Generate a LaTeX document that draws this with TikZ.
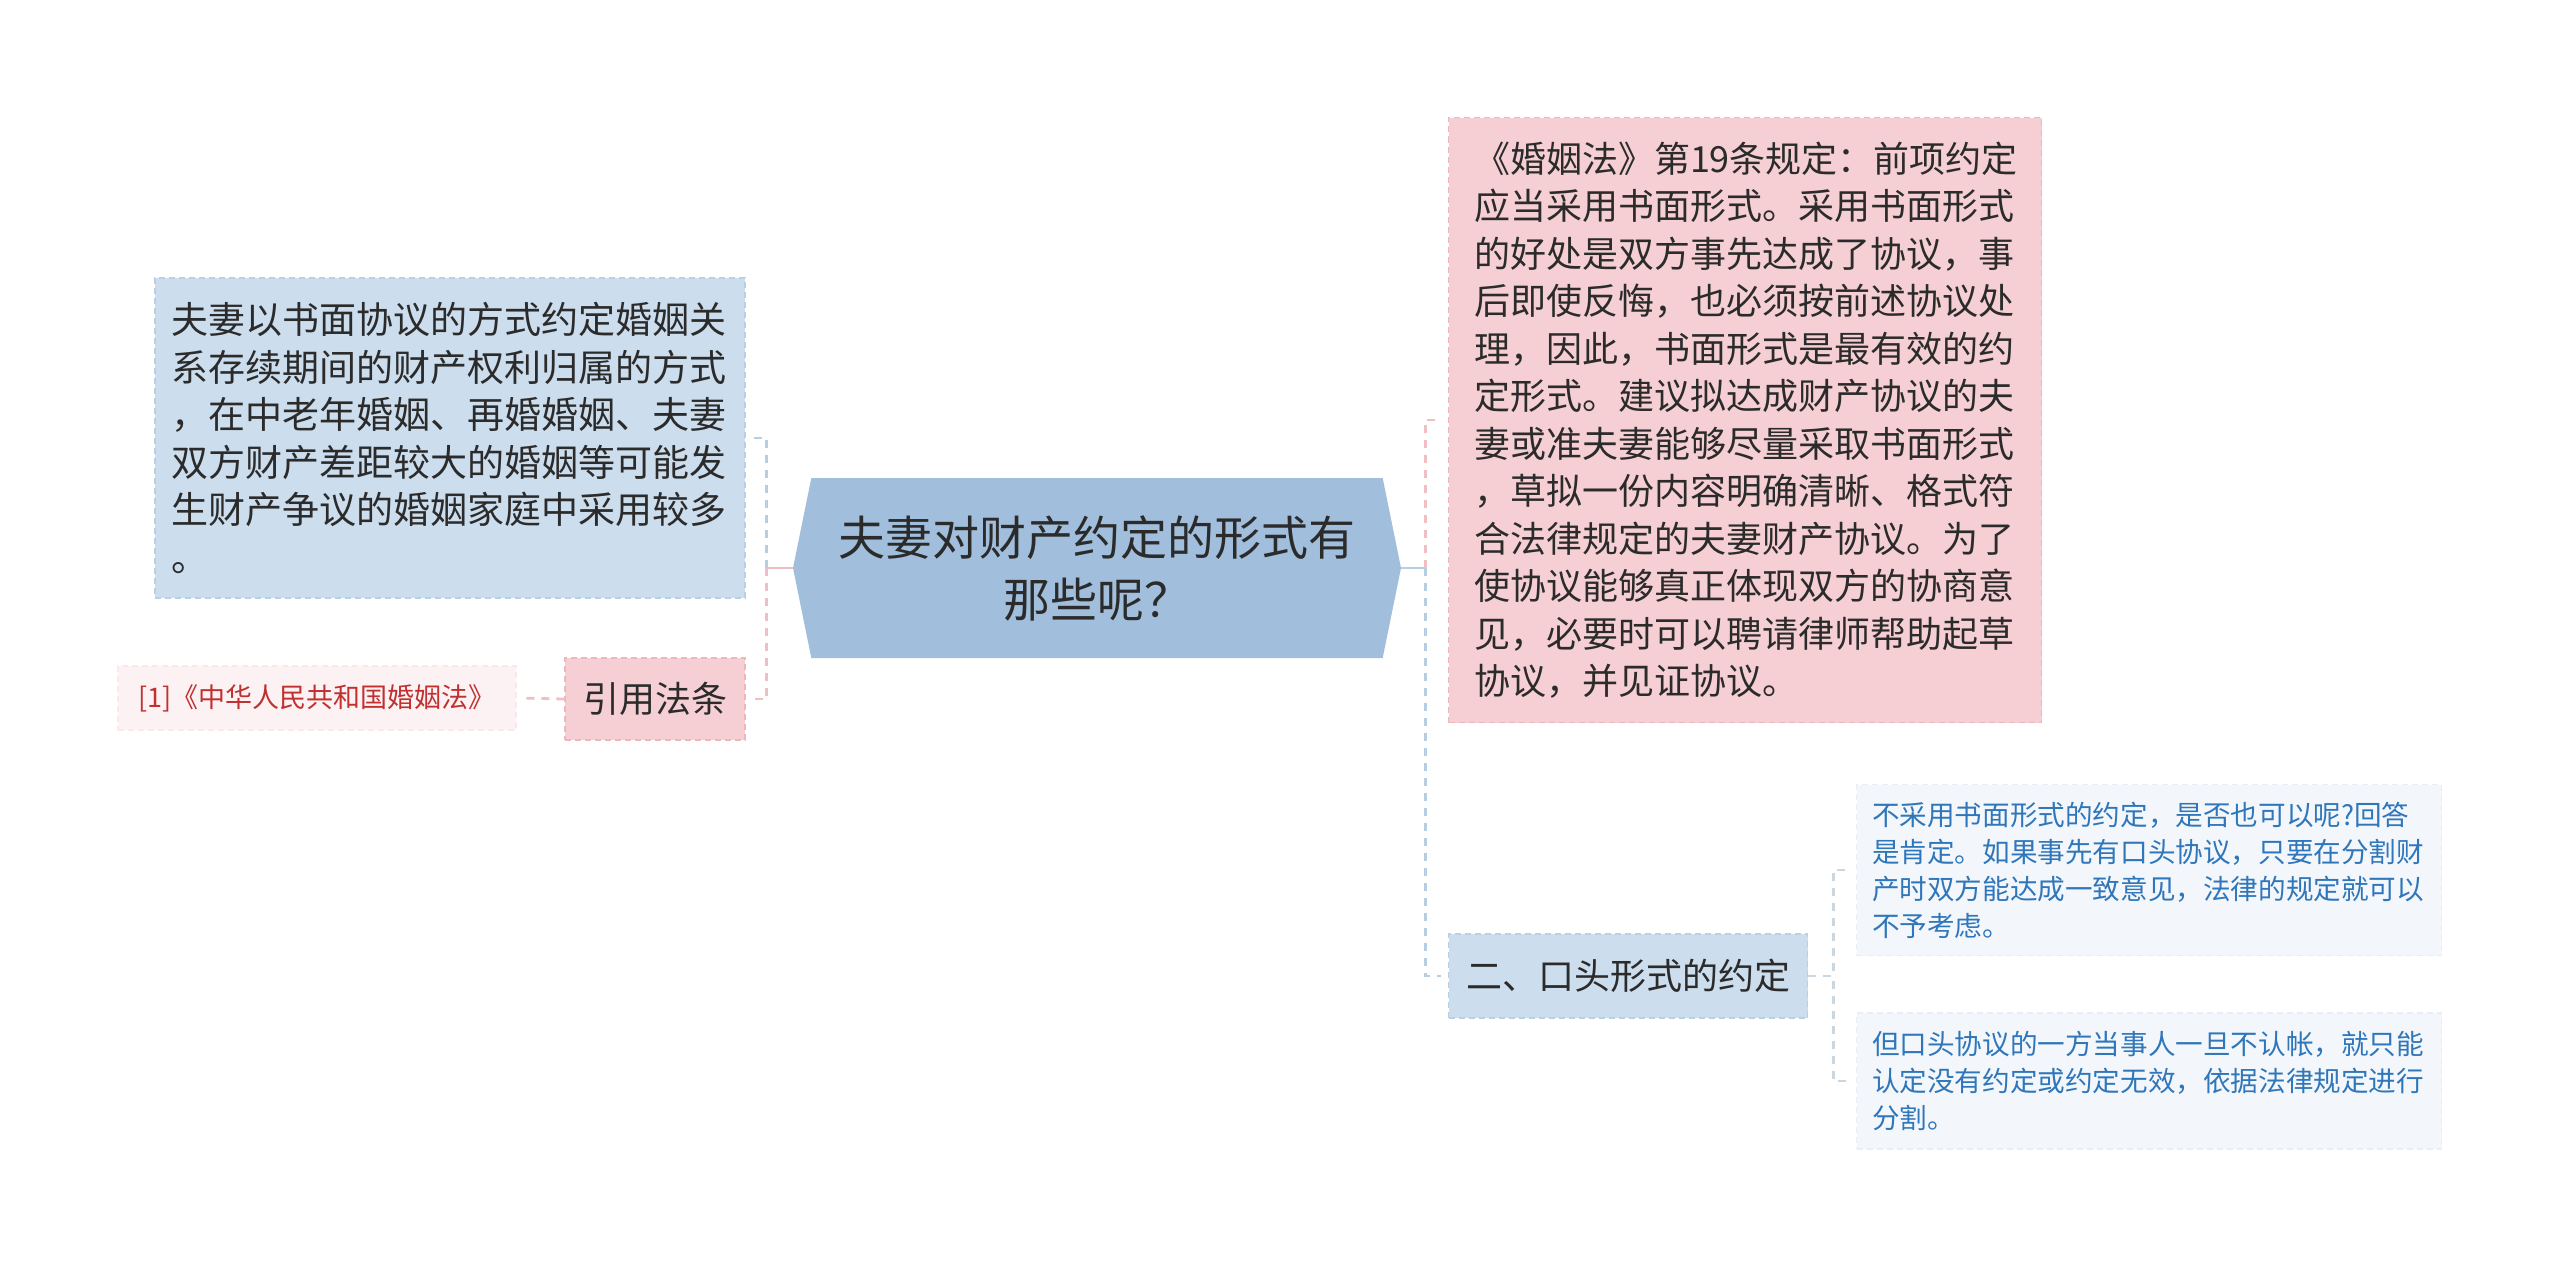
\documentclass[tikz,border=0pt]{standalone}
\usepackage{fontspec}
\setmainfont{Noto Sans CJK SC}
\usepackage{tikz}
\usetikzlibrary{shapes.symbols}
\definecolor{hexfill}{HTML}{A1BFDC}
\definecolor{bluefill}{HTML}{CCDDED}
\definecolor{blueedge}{HTML}{B9CFE4}
\definecolor{pinkfill}{HTML}{F5CFD3}
\definecolor{pinkedge}{HTML}{EDB8BD}
\definecolor{palepink}{HTML}{FDF2F3}
\definecolor{palepinkedge}{HTML}{FAE8EA}
\definecolor{leaffill}{HTML}{F3F7FB}
\definecolor{leafedge}{HTML}{E8EEF5}
\definecolor{reftext}{HTML}{C0302F}
\definecolor{leaftext}{HTML}{2F76BA}
\definecolor{maintext}{HTML}{2B2B2B}
\definecolor{blueline}{HTML}{B5CEE3}
\definecolor{pinkline}{HTML}{F0BFC3}
\definecolor{grayline}{HTML}{CCD6DF}
\tikzset{
	box/.style = {rectangle, draw, dash pattern=on 3pt off 2pt, line width=0.7pt,
		text=maintext, inner ysep=0pt},
	bluebox/.style = {box, fill=bluefill, draw=blueedge},
	pinkbox/.style = {box, fill=pinkfill, draw=pinkedge},
	refbox/.style = {box, fill=palepink, draw=palepinkedge, text=reftext},
	leafbox/.style = {box, fill=leaffill, draw=leafedge, text=leaftext, align=left,
		text width=277pt, inner xsep=7.75pt,
		font=\fontsize{13.8pt}{18.5pt}\selectfont},
	bigfont/.style = {font=\fontsize{18.5pt}{23.75pt}\selectfont},
	midfont/.style = {font=\fontsize{18pt}{23.75pt}\selectfont},
	stem/.style = {line width=1.4pt},
	link/.style = {dash pattern=on 4pt off 3.5pt, line width=1.4pt, shorten >=3.5pt},
}
\begin{document}
\begin{tikzpicture}[x=0.5pt,y=-0.5pt]
	\useasboundingbox (0,0) rectangle (2560,1269);
	\node at(1097,568) (Topic) [signal, signal to=west and east, signal pointer angle=157,
		fill=hexfill, minimum width=304pt, minimum height=90pt, inner sep=2pt,
		align=center, text=maintext, font=\fontsize{23.5pt}{31pt}\selectfont]
		{夫妻对财产约定的形式有\\那些呢？};
	\node at(450,438) (Written) [bluebox, bigfont, align=left, text width=279pt,
		inner xsep=8pt, minimum height=160pt]
		{夫妻以书面协议的方式约定婚姻关\\系存续期间的财产权利归属的方式\\，在中老年婚姻、再婚婚姻、夫妻\\双方财产差距较大的婚姻等可能发\\生财产争议的婚姻家庭中采用较多\\。};
	\node at(655,699) (Cite) [pinkbox, midfont, minimum width=90pt, minimum height=41pt]
		{引用法条};
	\node at(317,698) (Ref) [refbox, font=\fontsize{13.5pt}{16pt}\selectfont,
		minimum width=199pt, minimum height=32pt]
		{[1]《中华人民共和国婚姻法》};
	\node at(1745,420) (Law) [pinkbox, midfont, align=left, text width=271pt,
		inner xsep=12.75pt, minimum height=302.5pt]
		{《婚姻法》第19条规定：前项约定\\应当采用书面形式。采用书面形式\\的好处是双方事先达成了协议，事\\后即使反悔，也必须按前述协议处\\理，因此，书面形式是最有效的约\\定形式。建议拟达成财产协议的夫\\妻或准夫妻能够尽量采取书面形式\\，草拟一份内容明确清晰、格式符\\合法律规定的夫妻财产协议。为了\\使协议能够真正体现双方的协商意\\见，必要时可以聘请律师帮助起草\\协议，并见证协议。};
	\node at(1628,976) (Oral) [bluebox, midfont, minimum width=179.5pt, minimum height=42pt]
		{二、口头形式的约定};
	\node at(2149,870) (OralYes) [leafbox, minimum height=85.5pt]
		{不采用书面形式的约定，是否也可以呢?回答\\是肯定。如果事先有口头协议，只要在分割财\\产时双方能达成一致意见，法律的规定就可以\\不予考虑。};
	\node at(2149,1081) (OralNo) [leafbox, minimum height=68pt]
		{但口头协议的一方当事人一旦不认帐，就只能\\认定没有约定或约定无效，依据法律规定进行\\分割。};
	\draw[stem, pinkline] (Topic.west) -- ++(-26,0) coordinate (LeftJoin);
	\draw[stem, blueline] (Topic.east) -- ++(24,0) coordinate (RightJoin);
	\draw[link, blueline] (LeftJoin) |- (Written.east);
	\draw[link, pinkline] (LeftJoin) |- (Cite.east);
	\draw[link, pinkline] (Cite.west) -- (Ref.east);
	\draw[link, pinkline] (RightJoin) |- (Law.west);
	\draw[link, blueline] (RightJoin) |- (Oral.west);
	\draw[link, grayline] (Oral.east) -- ++(25,0) |- (OralYes.west);
	\draw[link, grayline] (Oral.east) -- ++(25,0) |- (OralNo.west);
\end{tikzpicture}
\end{document}
